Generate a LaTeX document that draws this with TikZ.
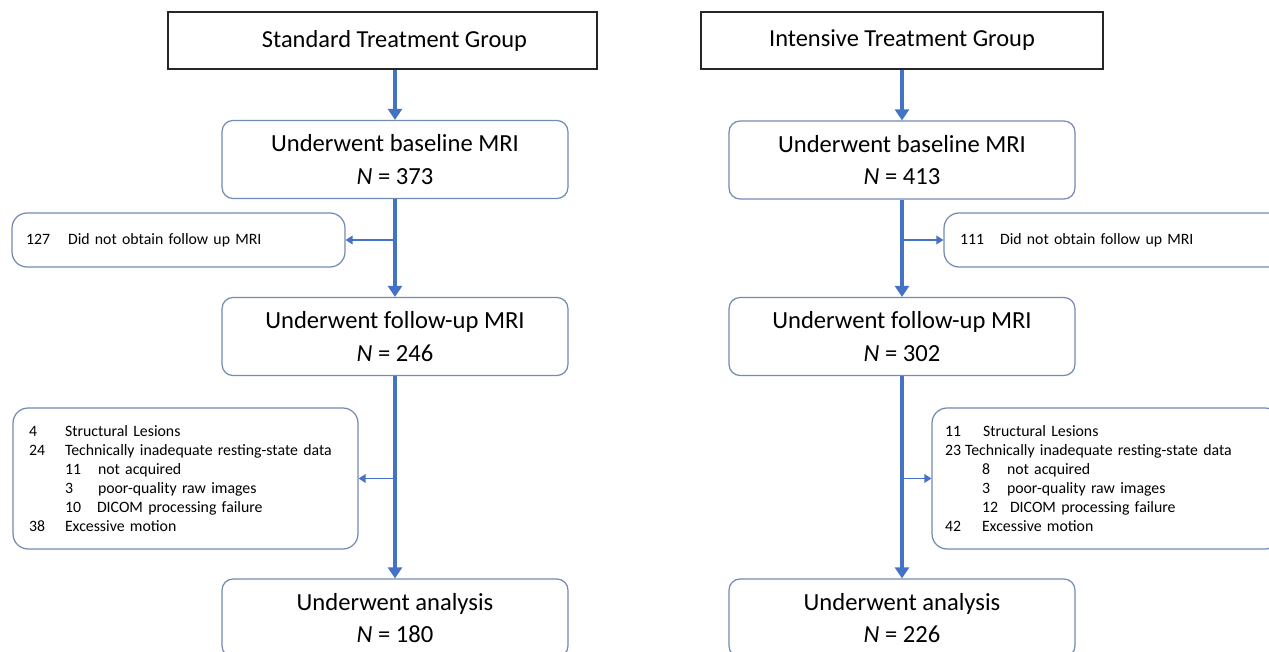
\documentclass[tikz,border=0pt]{standalone}
\usepackage{fontspec}
\setmainfont{Carlito}
\usetikzlibrary{positioning,arrows.meta}
\definecolor{flowblue}{RGB}{68,114,196}
\definecolor{boxline}{RGB}{115,138,178}
\tikzset{
  group/.style={draw=black!85, line width=0.9pt, minimum height=1.14cm, font=\fontsize{13.9}{18}\selectfont},
  stage/.style={draw=boxline, rounded corners=0.22cm, line width=0.7pt, minimum width=6.92cm, minimum height=1.56cm, align=center, font=\fontsize{14}{18.4}\selectfont},
  excl/.style={draw=boxline, rounded corners=0.3cm, line width=0.7pt, align=left, font=\fontsize{9}{10.9}\selectfont},
  flow/.style={draw=flowblue, line width=2.1pt, -{Triangle[width=0.28cm,length=0.22cm]}},
  branch/.style={draw=flowblue, line width=1pt, -{Triangle[width=0.17cm,length=0.14cm]}}
}
\begin{document}
\begin{tikzpicture}[x=0.02cm,y=-0.02cm]
  \useasboundingbox (0,0) rectangle (1269,652);
  \clip (0,0) rectangle (1269,652);

  % standard treatment arm
  \node[group, minimum width=8.58cm] (stdgrp) at (382.5,40.5) {\hspace*{0.48cm}Standard Treatment Group};
  \node[stage] (base1) at (395,159.5) {Underwent baseline MRI\\\textit{N} = 373};
  \node[excl, text width=6.1cm, inner xsep=0.28cm, minimum height=1.08cm] (nofu1) at (178.5,240)
    {\makebox[0.84cm][l]{127}Did not obtain follow up MRI};
  \node[stage] (fup1) at (395,336.5) {Underwent follow-up MRI\\\textit{N} = 246};
  \node[excl, text width=6.26cm, inner xsep=0.32cm, minimum height=2.82cm] (drop1) at (185.5,478.5)
    {\makebox[0.72cm][l]{4}Structural Lesions\\
     \makebox[0.72cm][l]{24}Technically inadequate resting-state data\\
     \hspace*{0.72cm}\makebox[0.66cm][l]{11}not acquired\\
     \hspace*{0.72cm}\makebox[0.66cm][l]{3}poor-quality raw images\\
     \hspace*{0.72cm}\makebox[0.64cm][l]{10}DICOM processing failure\\
     \makebox[0.72cm][l]{38}Excessive motion};
  \node[stage] (ana1) at (395,618) {Underwent analysis\\\textit{N} = 180};

  % intensive treatment arm
  \node[group, minimum width=8.04cm] (intgrp) at (902,40.5) {Intensive Treatment Group};
  \node[stage] (base2) at (902,160) {Underwent baseline MRI\\\textit{N} = 413};
  \node[excl, text width=6.28cm, inner xsep=0.32cm, minimum height=1.08cm] (nofu2) at (1117,240)
    {\makebox[0.8cm][l]{111}Did not obtain follow up MRI};
  \node[stage] (fup2) at (902,336.5) {Underwent follow-up MRI\\\textit{N} = 302};
  \node[excl, text width=6.44cm, inner xsep=0.26cm, minimum height=2.82cm] (drop2) at (1106,478.5)
    {\makebox[0.76cm][l]{11}Structural Lesions\\
     \makebox[0.4cm][l]{23}Technically inadequate resting-state data\\
     \hspace*{0.74cm}\makebox[0.5cm][l]{8}not acquired\\
     \hspace*{0.74cm}\makebox[0.5cm][l]{3}poor-quality raw images\\
     \hspace*{0.74cm}\makebox[0.56cm][l]{12}DICOM processing failure\\
     \makebox[0.74cm][l]{42}Excessive motion};
  \node[stage] (ana2) at (902,618) {Underwent analysis\\\textit{N} = 226};

  % connectors
  \draw[flow] (base1.north |- stdgrp.south) -- (base1.north);
  \draw[flow] (base1) -- (fup1);
  \draw[flow] (fup1) -- (ana1);
  \draw[branch] (base1.south |- nofu1.east) -- (nofu1.east);
  \draw[branch] (fup1.south |- drop1.east) -- (drop1.east);

  \draw[flow] (base2.north |- intgrp.south) -- (base2.north);
  \draw[flow] (base2) -- (fup2);
  \draw[flow] (fup2) -- (ana2);
  \draw[branch] (base2.south |- nofu2.west) -- (nofu2.west);
  \draw[branch] (fup2.south |- drop2.west) -- (drop2.west);
\end{tikzpicture}
\end{document}
